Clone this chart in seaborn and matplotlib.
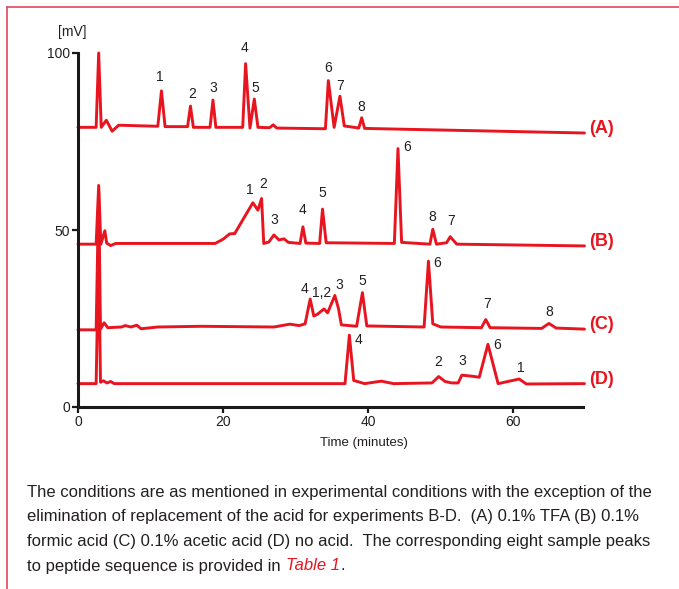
import matplotlib
matplotlib.use("Agg")
import numpy as np
import pandas as pd
import seaborn as sns
import matplotlib.pyplot as plt
from matplotlib.lines import Line2D

# ---------------- data ----------------
A_time = [0, 2.5, 2.85, 3.2, 3.9, 4.3, 4.7, 5.6, 11.0, 11.5, 12.0, 15.1, 15.5, 15.9,
          18.2, 18.6, 19.0, 22.7, 23.1, 23.7, 24.3, 24.8, 26.4, 26.9, 27.4, 34.1,
          34.5, 35.3, 36.1, 36.7, 38.7, 39.1, 39.5, 44.0, 69.8]
A_mv = [79.0, 79.0, 100.0, 79.0, 81.0, 79.5, 77.9, 79.6, 79.3, 89.3, 79.2, 79.2, 85.0, 79.0,
        79.0, 86.7, 79.0, 79.0, 97.0, 78.8, 87.0, 79.0, 78.9, 79.7, 78.8, 78.6,
        92.2, 79.0, 87.8, 79.4, 78.8, 81.7, 78.7, 78.5, 77.4]

B_time = [0, 2.5, 2.85, 3.15, 3.7, 3.95, 4.5, 5.2, 18.9, 20.0, 20.9, 21.6, 24.1, 24.8,
          25.3, 25.6, 26.3, 27.0, 27.7, 28.4, 29.0, 30.6, 31.0, 31.4, 33.3, 33.7, 34.2,
          43.6, 44.1, 44.6, 48.5, 48.9, 49.4, 50.8, 51.3, 52.2, 69.8]
B_mv = [46.0, 46.0, 62.6, 46.0, 49.8, 46.3, 45.6, 46.2, 46.2, 47.4, 48.9, 49.0, 57.7, 55.6,
        58.9, 46.2, 46.6, 48.6, 47.2, 47.5, 46.5, 46.2, 50.9, 46.3, 46.2, 55.9, 46.4,
        46.2, 73.0, 46.5, 46.0, 50.2, 46.0, 46.4, 48.1, 46.0, 45.5]

C_time = [0, 2.5, 2.85, 3.1, 3.6, 4.1, 6.0, 6.5, 7.3, 8.1, 8.7, 11.0, 17.0, 27.0, 29.2,
          30.5, 31.3, 32.0, 32.5, 33.0, 33.9, 34.4, 35.4, 35.9, 36.3, 38.4, 39.2, 39.8,
          47.7, 48.3, 48.9, 50.0, 55.6, 56.2, 56.8, 63.9, 64.9, 65.9, 69.8]
C_mv = [21.8, 21.8, 61.0, 22.0, 23.8, 22.4, 22.6, 23.0, 22.6, 23.1, 22.1, 22.6, 22.8, 22.6, 23.4,
        23.0, 23.5, 30.5, 25.7, 26.2, 27.7, 26.6, 31.5, 27.8, 23.2, 22.8, 32.3, 22.9,
        22.6, 41.2, 23.5, 22.6, 22.4, 24.7, 22.4, 22.2, 23.6, 22.3, 22.0]

D_time = [0, 2.5, 2.85, 3.1, 3.5, 4.0, 4.5, 5.0, 36.8, 37.4, 38.0, 39.5, 41.8, 43.5,
          48.8, 49.7, 50.6, 51.5, 52.4, 52.9, 54.3, 55.3, 56.5, 57.9, 60.8, 61.8, 69.8]
D_mv = [6.6, 6.6, 45.0, 7.0, 7.4, 6.8, 7.2, 6.6, 6.6, 20.3, 7.5, 6.6, 7.3, 6.6,
        6.8, 8.6, 7.2, 6.8, 6.8, 9.0, 8.7, 8.4, 17.7, 6.6, 7.9, 6.5, 6.6]

# peak labels: name and retention time of the labelled peak
A_peaks = ["1", "2", "3", "4", "5", "6", "7", "8"]
A_peak_t = [11.5, 15.5, 18.6, 23.1, 24.3, 34.5, 36.1, 39.1]
B_peaks = ["1", "2", "3", "4", "5", "6", "8", "7"]
B_peak_t = [24.1, 25.3, 27.0, 31.0, 33.7, 44.1, 48.9, 51.3]
C_peaks = ["4", "1,2", "3", "5", "6", "7", "8"]
C_peak_t = [32.0, 33.9, 35.4, 39.2, 48.3, 56.2, 64.9]
D_peaks = ["4", "2", "3", "6", "1"]
D_peak_t = [37.4, 49.7, 52.9, 56.5, 60.8]

trace_names = ["(A)", "(B)", "(C)", "(D)"]
x_ticks = [0, 20, 40, 60]
y_ticks = [0, 50, 100]

caption_lines = [
    "The conditions are as mentioned in experimental conditions with the exception of the",
    "elimination of replacement of the acid for experiments B-D.  (A) 0.1% TFA (B) 0.1%",
    "formic acid (C) 0.1% acetic acid (D) no acid.  The corresponding eight sample peaks",
    "to peptide sequence is provided in ",
]
caption_link = "Table 1"

# ---------------- style ----------------
sns.set_theme(style="ticks")
plt.rcParams["font.family"] = ["Liberation Sans", "DejaVu Sans"]

RED = "#E8141F"
TXT = "#231F20"
FRAME = "#E2455A"

W, H = 679, 589
fig = plt.figure(figsize=(W / 100, H / 100), dpi=100)
fig.patch.set_facecolor("white")


def fx(px):
    return px / W


def fy(py):
    return 1 - py / H


ax = fig.add_axes([fx(78), fy(407), fx(505), 354 / H])
ax.set_facecolor("white")

traces = [(A_time, A_mv), (B_time, B_mv), (C_time, C_mv), (D_time, D_mv)]
frames = []
for name, (t, v) in zip(trace_names, traces):
    frames.append(pd.DataFrame({"time": t, "mV": v, "trace": name}))
df = pd.concat(frames, ignore_index=True)

for name in trace_names:
    sub = df[df["trace"] == name]
    sns.lineplot(data=sub, x="time", y="mV", sort=False, estimator=None,
                 color=RED, lw=2.1, ax=ax, clip_on=False,
                 solid_joinstyle="round", solid_capstyle="round")

# peak-number labels; nudges in pixels (dx, dy up) measured from reference
nudge = {
    ("(A)", "1"): (-1.7, 13.7), ("(A)", "2"): (1.7, 12), ("(A)", "3"): (0.7, 12),
    ("(A)", "4"): (-1, 15.3), ("(A)", "5"): (0.7, 11), ("(A)", "6"): (0, 12.7),
    ("(A)", "7"): (0.3, 10), ("(A)", "8"): (0, 10.7),
    ("(B)", "1"): (-2.6, 12.7), ("(B)", "2"): (1.3, 14), ("(B)", "3"): (0.7, 15),
    ("(B)", "4"): (-0.3, 16.7), ("(B)", "5"): (-0.3, 16.3), ("(B)", "6"): (9.3, 1.3),
    ("(B)", "8"): (-0.3, 12.3), ("(B)", "7"): (1.3, 15.7),
    ("(C)", "4"): (-5.4, 9.7), ("(C)", "1,2"): (-2, 15.7), ("(C)", "3"): (4, 10.7),
    ("(C)", "5"): (0.3, 11.3), ("(C)", "6"): (8.7, -1.7), ("(C)", "7"): (1, 15.3),
    ("(C)", "8"): (0.7, 11.6),
    ("(D)", "4"): (8.7, -5), ("(D)", "2"): (0, 14.4), ("(D)", "3"): (0.7, 14.3),
    ("(D)", "6"): (9, -0.7), ("(D)", "1"): (1.7, 11.3),
}
PT = 0.72  # points per pixel at 100 dpi
peak_sets = [(A_peaks, A_peak_t), (B_peaks, B_peak_t), (C_peaks, C_peak_t), (D_peaks, D_peak_t)]
for name, (t, v), (labels, lt) in zip(trace_names, traces, peak_sets):
    for lab, tt in zip(labels, lt):
        val = v[t.index(tt)]
        dx, dy = nudge[(name, lab)]
        ax.annotate(lab, xy=(tt, val), xytext=(dx * PT, dy * PT),
                    textcoords="offset points", ha="center", va="center",
                    fontsize=10, color=TXT)
    ax.annotate(name, xy=(t[-1], v[-1]), xytext=(4.5 * PT, 4.5 * PT),
                textcoords="offset points", ha="left", va="center",
                fontsize=13, fontweight="bold", color=RED, annotation_clip=False)

ax.set_xlim(0, 69.6)
ax.set_ylim(0, 100)
ax.set_xticks(x_ticks)
ax.set_yticks(y_ticks)
ax.set_xlabel("")
ax.set_ylabel("")
sns.despine(ax=ax)
for s in ("left", "bottom"):
    ax.spines[s].set_linewidth(2.2)
    ax.spines[s].set_color("#1a1a1a")
ax.tick_params(axis="both", direction="out", length=4, width=1.6, color="#1a1a1a",
               labelsize=10, labelcolor=TXT, pad=1.5)
ax.grid(False)

fig.text(fx(72), fy(32), "[mV]", ha="center", va="center", fontsize=10, color=TXT)
fig.text(fx(364), fy(443), "Time (minutes)", ha="center", va="center", fontsize=9.5, color=TXT)

# caption: fit the first line to the reference width (x 27 -> 652 px)
baselines = [497, 521.5, 546, 570.5]
probe = fig.text(0, 0, caption_lines[0], fontsize=14)
fig.canvas.draw()
r = fig.canvas.get_renderer()
cap_size = 14 * 625 / probe.get_window_extent(r).width
probe.remove()

last = None
for line, by in zip(caption_lines, baselines):
    last = fig.text(fx(27), fy(by), line, ha="left", va="baseline", fontsize=cap_size, color=TXT)
fig.canvas.draw()
bb = last.get_window_extent(r)
link = fig.text(bb.x1 / W + fx(1), fy(baselines[-1]), caption_link, fontsize=cap_size,
                color=RED, style="italic", va="baseline")
fig.canvas.draw()
bb2 = link.get_window_extent(r)
fig.text(bb2.x1 / W, fy(baselines[-1]), ".", fontsize=cap_size, color=TXT, va="baseline")

# outer frame (top and left edges of the box)
fig.add_artist(Line2D([fx(7), 1.0], [fy(7), fy(7)], color=FRAME, lw=1.2))
fig.add_artist(Line2D([fx(7), fx(7)], [fy(7), 0.0], color=FRAME, lw=1.2))

fig.savefig("out.png", dpi=100, facecolor="white")
